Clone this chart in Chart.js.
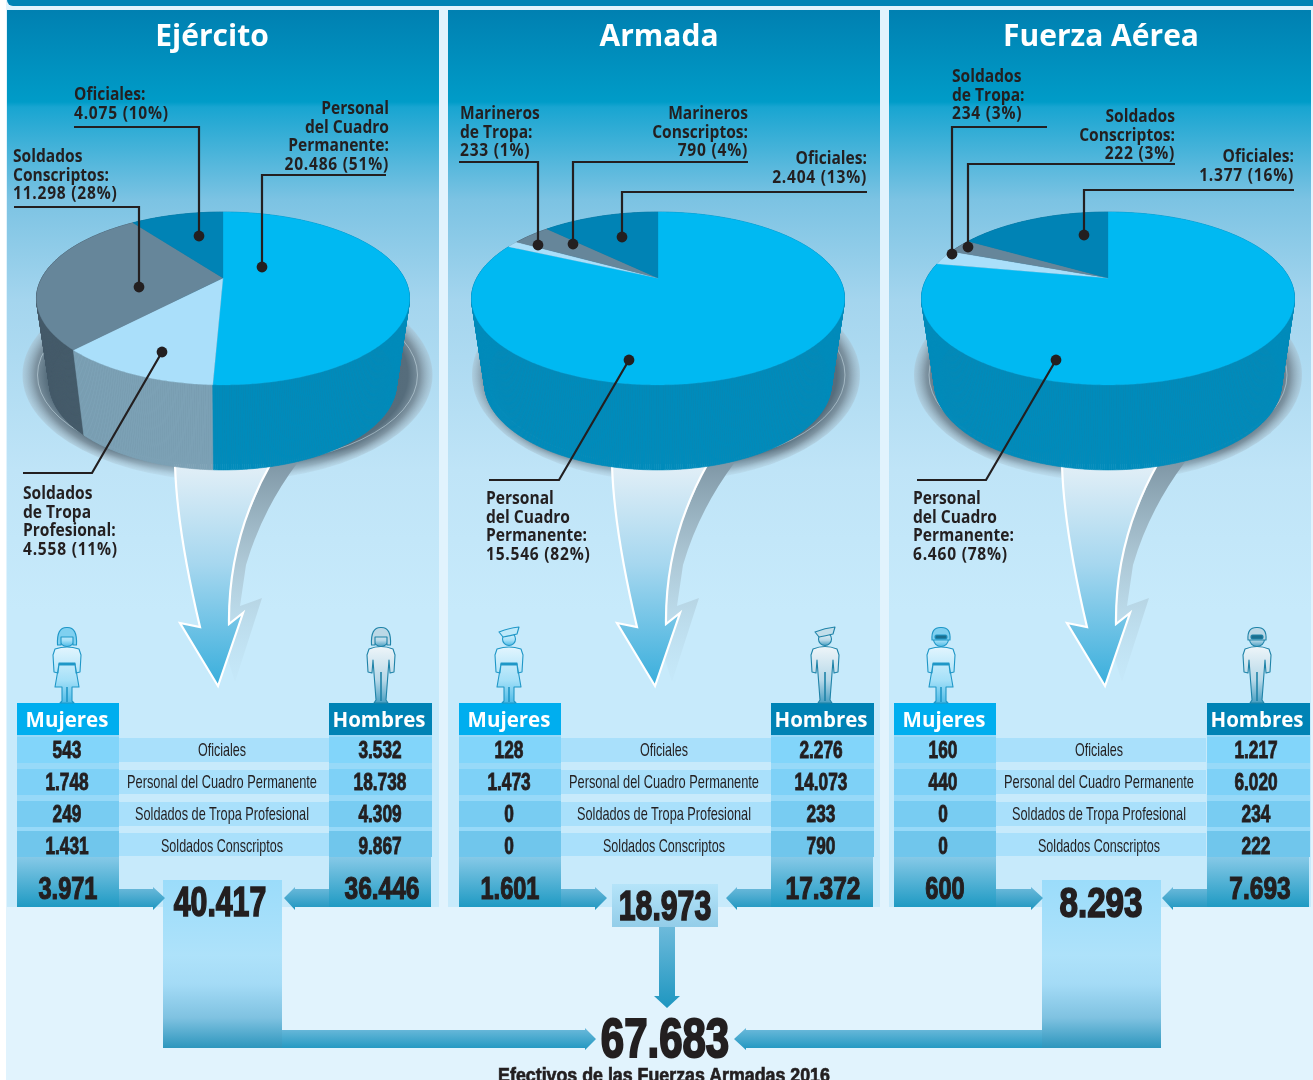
<!DOCTYPE html>
<html lang="es"><head><meta charset="utf-8"><title>Efectivos de las Fuerzas Armadas 2016</title>
<script src="https://cdn.jsdelivr.net/npm/chart.js@4"></script>
<style>
html,body{margin:0;padding:0;background:#fff;}
#page{position:relative;width:1313px;height:1080px;overflow:hidden;background:#fff;}
#bg{position:absolute;left:6px;top:0;width:1307px;height:1080px;background:#E1F3FD;}
#bar{position:absolute;left:7px;top:0;width:1306px;height:6px;background:#0083B5;border-bottom-left-radius:6px;}
.panel{position:absolute;top:9.5px;height:897.5px;background:linear-gradient(180deg,#0080B1 0,#009CC8 92px,#18A5D1 97px,#7CC3E3 190px,#A4D5EE 290px,#BFE4F7 460px,#C7EAFB 600px,#C7EAFB 100%);}
svg.layer{position:absolute;left:0;top:0;width:1313px;height:1080px;}
canvas{position:absolute;}
.t{position:absolute;white-space:nowrap;color:#231f20;line-height:1;}
.title{font:700 30px "Open Sans",sans-serif;color:#fff;}
.lab{font:700 17.5px/18.6px "Open Sans",sans-serif;}
.lab span{display:block;}
.lab span.v{letter-spacing:.85px;}
.lab.l{transform:scaleX(.89);transform-origin:left top;text-align:left;}
.lab.r{transform:translateX(-100%) scaleX(.89);transform-origin:right top;text-align:right;}
.hd{font:700 20.5px "Open Sans",sans-serif;color:#fff;}
.cat{font:400 18.5px "Liberation Sans",sans-serif;}
.num{font:700 24px "Liberation Sans",sans-serif;-webkit-text-stroke:.9px #231f20;}
.tot{font:700 31px "Liberation Sans",sans-serif;-webkit-text-stroke:1.2px #231f20;}
.big{font:700 42px "Liberation Sans",sans-serif;-webkit-text-stroke:1.7px #231f20;}
.grand{font:700 56px "Liberation Sans",sans-serif;-webkit-text-stroke:2.2px #231f20;}
.foot{font:700 20px "Liberation Sans",sans-serif;-webkit-text-stroke:.7px #231f20;}
.blk{position:absolute;}
</style></head>
<body><div id="page"><div id="bg"></div><div id="bar"></div>
<div id="under"></div>
<svg class="layer" id="svgBack" xmlns="http://www.w3.org/2000/svg"></svg>
<div id="charts"></div>
<svg class="layer" id="svgFront" xmlns="http://www.w3.org/2000/svg"></svg>
<div id="texts"></div>
</div>
<script>
// ---------- data ----------
const forces = ["Ejército", "Armada", "Fuerza Aérea"];
const rowCategories = ["Oficiales", "Personal del Cuadro Permanente", "Soldados de Tropa Profesional", "Soldados Conscriptos"];
const pieEjercito = [20486, 4558, 11298, 4075];
const pieArmada = [15546, 233, 790, 2404];
const pieAerea = [6460, 234, 222, 1377];
const mujeresEjercito = ["543", "1.748", "249", "1.431"];
const hombresEjercito = ["3.532", "18.738", "4.309", "9.867"];
const mujeresArmada = ["128", "1.473", "0", "0"];
const hombresArmada = ["2.276", "14.073", "233", "790"];
const mujeresAerea = ["160", "440", "0", "0"];
const hombresAerea = ["1.217", "6.020", "234", "222"];
const totalMujeres = ["3.971", "1.601", "600"];
const totalHombres = ["36.446", "17.372", "7.693"];
const totalFuerza = ["40.417", "18.973", "8.293"];
const totalGeneral = "67.683";
const caption = "Efectivos de las Fuerzas Armadas 2016";
const labelsEjercito = ["Personal\ndel Cuadro\nPermanente:\n20.486 (51%)", "Soldados\nde Tropa\nProfesional:\n4.558 (11%)", "Soldados\nConscriptos:\n11.298 (28%)", "Oficiales:\n4.075 (10%)"];
const labelsArmada = ["Personal\ndel Cuadro\nPermanente:\n15.546 (82%)", "Marineros\nde Tropa:\n233 (1%)", "Marineros\nConscriptos:\n790 (4%)", "Oficiales:\n2.404 (13%)"];
const labelsAerea = ["Personal\ndel Cuadro\nPermanente:\n6.460 (78%)", "Soldados\nde Tropa:\n234 (3%)", "Soldados\nConscriptos:\n222 (3%)", "Oficiales:\n1.377 (16%)"];

// ---------- layout / styling ----------
const topColors = ["#00B9F2", "#AADFFA", "#66869A", "#0083B5"];
const sideColors = ["#008BBB", "#7CA1B5", "#455B69", "#006E98"];
const layout = [
  {panel:[7,432], apex:223, titleX:212, pie:pieEjercito, labels:labelsEjercito, muj:mujeresEjercito, hom:hombresEjercito,
   colL:17, colR:329, midX:222, numL:67, numR:380, totL:68, totR:382, shadow:[227.5,205], funnel:0, manX:381, womanX:67, hat:"helmet",
   boxText:[220,902,.72],
   labelPos:[[389,98,"r"],[23,483,"l"],[13,146,"l"],[74,84,"l"]],
   leaders:[[[386,175],[262,175],[262,267]],[[23,473],[92,473],[162,352]],[[14,207],[139,207],[139,287]],[[74,127],[199,127],[199,236]]]},
  {panel:[448,432], apex:658, titleX:659, pie:pieArmada, labels:labelsArmada, muj:mujeresArmada, hom:hombresArmada,
   colL:459, colR:771, midX:664, numL:509, numR:821, totL:510, totR:823, shadow:[666,194], funnel:437, manX:825, womanX:509, hat:"sailor",
   boxText:[665,906,.72],
   labelPos:[[486,488,"l"],[460,103,"l"],[748,103,"r"],[867,148,"r"]],
   leaders:[[[489,480],[559,480],[629,360]],[[459,162],[538,162],[538,245]],[[748,162],[573,162],[573,244]],[[867,192],[622,192],[622,237]]]},
  {panel:[889,422], apex:1108, titleX:1101, pie:pieAerea, labels:labelsAerea, muj:mujeresAerea, hom:hombresAerea,
   colL:894, colR:1207, midX:1099, numL:943, numR:1256, totL:945, totR:1260, shadow:[1108,194], funnel:887, manX:1257, womanX:941, hat:"goggles",
   boxText:[1101,903,.79],
   labelPos:[[913,488,"l"],[952,66,"l"],[1175,106,"r"],[1294,146,"r"]],
   leaders:[[[917,480],[986,480],[1056,360]],[[1047,127],[952,127],[952,254]],[[1175,164],[968,164],[968,247]],[[1294,190],[1084,190],[1084,235]]]}
];
const APEX_Y=278, A_TOP=181.2, B_TOP=81.6, PERSP=-0.237, A_BOT=168.5, B_BOT=81.6, APEX_Y_BOT=363;

// ---------- helpers ----------
const NS="http://www.w3.org/2000/svg";
const under=document.getElementById('under'), texts=document.getElementById('texts');
const back=document.getElementById('svgBack'), front=document.getElementById('svgFront');
function s(parent,tag,attrs){const e=document.createElementNS(NS,tag);for(const k in attrs)e.setAttribute(k,attrs[k]);parent.appendChild(e);return e;}
function box(x,y,w,h,bg,parent){const d=document.createElement('div');d.className='blk';d.style.cssText=`left:${x}px;top:${y}px;width:${w}px;height:${h}px;background:${bg}`;(parent||under).appendChild(d);return d;}
function txt(str,x,y,cls,sx=1){const d=document.createElement('div');d.className='t '+cls;d.textContent=str;d.style.left=x+'px';d.style.top=y+'px';
  d.style.transform=`translate(-50%,-50%) scaleX(${sx})`;texts.appendChild(d);return d;}
function fit(d,w){const r=d.getBoundingClientRect().width;d.style.transform=`translate(-50%,-50%) scaleX(${w/r})`;}

// gradients
const defs=s(back,'defs',{});
function lg(id,stops,vertical=true,parent=defs){const g=s(parent,'linearGradient',{id,x1:0,y1:0,x2:vertical?0:1,y2:vertical?1:0});stops.forEach(([o,c,a])=>s(g,'stop',{offset:o,'stop-color':c,'stop-opacity':a==null?1:a}));return g;}
lg('arrow',[[0,'#6DBADB'],[1,'#1E96C0']]);
lg('funnel',[[0,'#E2EFF7'],[.45,'#A6D7EF'],[1,'#38AEDC']]);
lg('fshadow',[[0,'#7F97A6'],[.45,'#A9C2CF',.85],[1,'#B8D8E8',.1]]);
lg('woman',[[0,'#E2F5FE'],[.6,'#A4E0F8'],[1,'#4FBBE6']]);
lg('man',[[0,'#EEF5F9'],[.6,'#B6D8E8'],[1,'#4A9FC2']]);
const rg=s(defs,'radialGradient',{id:'shadow',cx:.5,cy:.5,r:.5});
[[0,'#4C6372',1],[.88,'#566D7C',1],[.94,'#7F95A3',1],[1,'#A8C0CE',.5]].forEach(([o,c,a])=>s(rg,'stop',{offset:o,'stop-color':c,'stop-opacity':a}));
const fade=s(defs,'linearGradient',{id:'fadeG',gradientUnits:'userSpaceOnUse',x1:0,y1:400,x2:0,y2:481});
[[0,'#fff'],[.6,'#fff'],[1,'#555']].forEach(([o,c])=>s(fade,'stop',{offset:o,'stop-color':c}));
const mask=s(defs,'mask',{id:'fadeM',maskUnits:'userSpaceOnUse',x:0,y:0,width:1313,height:1080});
s(mask,'rect',{x:0,y:0,width:1313,height:1080,fill:'url(#fadeG)'});

// ---------- backgrounds, tables, arrows ----------
layout.forEach((L,i)=>{
  const p=document.createElement('div');p.className='panel';p.style.left=L.panel[0]+'px';p.style.width=L.panel[1]+'px';under.appendChild(p);
  txt(forces[i],L.titleX,34,'title');

  // shadow ellipse under pie
  s(back,'ellipse',{cx:L.shadow[0],cy:375,rx:L.shadow[1],ry:106,fill:'url(#shadow)',mask:'url(#fadeM)'});
  s(back,'ellipse',{cx:L.shadow[0],cy:375,rx:L.shadow[1]-15,ry:91,fill:'none',stroke:'#C9DCE6','stroke-width':.7,opacity:.8});

  // funnel arrow
  const f=L.funnel;
  s(back,'path',{d:`M${270+f},462 L${298+f},462 Q${262+f},510 ${246+f},565 L${240+f},606 L${262+f},598 L${235+f},682 L${222+f},640 L${229+f},560 Z`,fill:'url(#fshadow)'});
  s(back,'path',{d:`M${175+f},465 Q${177+f},530 ${200+f},627 L${180+f},623 L${218+f},686 L${243+f},613 L${229+f},624 Q${228+f},540 ${270+f},465 Z`,fill:'url(#funnel)',stroke:'#fff','stroke-width':2.2,'stroke-linejoin':'miter'});

  // people
  drawPerson(L.womanX,true,L.hat);
  drawPerson(L.manX,false,L.hat);

  // headers
  box(L.colL,703,102,32,'#00AEEF');
  box(L.colR,703,103,32,'#0083B5');
  txt('Mujeres',L.colL+50,718.5,'hd');
  txt('Hombres',L.colR+50,718.5,'hd');

  // columns + rows
  const sideRows=[[737,26],[769,26],[801,26],[831,26]], sideCols=['#82D5FA','#7ED1F7','#78CCF2','#70C6EC'];
  const midRows=[[738,24],[770,24],[802,24],[833,23]];
  box(L.colL,735,102,122,'#97D9F8');box(L.colR,735,103,122,'#97D9F8');
  rowCategories.forEach((c,r)=>{
    box(L.colL,sideRows[r][0],102,sideRows[r][1],sideCols[r]);
    box(L.colR,sideRows[r][0],103,sideRows[r][1],sideCols[r]);
    box(L.colL+102,midRows[r][0],210,midRows[r][1],'#A9E0FB');
    const y=[750,782,814,846][r];
    txt(L.muj[r],L.numL,y,'num',.72);
    txt(L.hom[r],L.numR,y,'num',.72);
    const w=[48,190,174,122][r];
    fit(txt(c,L.midX,y,'cat'),w);
  });
  // totals
  box(L.colL,857,102,50,'linear-gradient(180deg,#86C9E7,#1F9AC3)');
  box(L.colR,857,102,50,'linear-gradient(180deg,#86C9E7,#1F9AC3)');
  txt(totalMujeres[i],L.totL,889,'tot',.76);
  txt(totalHombres[i],L.totR,889,'tot',.79);
});

// total boxes and arrows (these sit above the panels)
const arrowPolys=[
 [[119,889],[153,889],[153,887],[165,898],[153,910],[153,907],[119,907]],
 [[329,889],[295,889],[295,887],[284,898],[295,910],[295,907],[329,907]],
 [[561,889],[595,889],[595,887],[607,898],[595,910],[595,907],[561,907]],
 [[771,889],[737,889],[737,887],[726,898],[737,910],[737,907],[771,907]],
 [[996,889],[1031,889],[1031,887],[1043,898],[1031,910],[1031,907],[996,907]],
 [[1207,889],[1173,889],[1173,887],[1162,898],[1173,910],[1173,907],[1207,907]],
 [[282,1030],[585,1030],[585,1028],[596,1039],[585,1050],[585,1048],[282,1048]],
 [[1042,1030],[746,1030],[746,1028],[734,1039],[746,1050],[746,1048],[1042,1048]],
 [[659,927],[675,927],[675,996],[680,996],[667,1008],[654,996],[659,996]]
];
const boxes=document.createElement('div');under.appendChild(boxes);
box(163,880,119,168,'linear-gradient(180deg,#9BDCFA 0,#AEE2FA 45%,#A4DBF6 62%,#7FC2E1 82%,#2D96BD 100%)',boxes);
box(1042,880,119,168,'linear-gradient(180deg,#9BDCFA 0,#AEE2FA 45%,#A4DBF6 62%,#7FC2E1 82%,#2D96BD 100%)',boxes);
box(612,884,106,43,'linear-gradient(180deg,#B5E4F9,#93CDE9)',boxes);
arrowPolys.forEach(a=>s(back,'polygon',{points:a.map(p=>p.join(',')).join(' '),fill:'url(#arrow)'}));
layout.forEach((L,i)=>txt(totalFuerza[i],L.boxText[0],L.boxText[1],'big',L.boxText[2]));
txt(totalGeneral,665,1037,'grand',.75);
txt(caption,664,1075,'foot',.89);

function drawPerson(cx,woman,hat){
  const g=s(back,'g',{transform:`translate(${cx},0)`,stroke:woman?'#1F97C7':'#1F83A8','stroke-width':1.1,'stroke-linejoin':'round'});
  const fill=woman?'url(#woman)':'url(#man)';
  const d=woman
   ?'M-12,649 Q0,645 12,649 L14,655 L13,672 L9,673 L8,664 L12,687 L5,687 L5,701 L7,703 L-7,703 L-5,701 L-5,687 L-12,687 L-8,664 L-9,673 L-13,672 L-14,655 Z'
   :'M-12,649 Q0,644 12,649 L14,655 L13,672 L9,673 L8,660 L5,700 L7,703 L-7,703 L-5,700 L-8,660 L-9,673 L-13,672 L-14,655 Z';
  s(g,'path',{d,fill});
  if(woman){s(g,'rect',{x:-8,y:663,width:16,height:2,fill:'#1F97C7'});s(g,'line',{x1:0,y1:687,x2:0,y2:702,'stroke-width':1.6});}
  else s(g,'line',{x1:0,y1:672,x2:0,y2:701,'stroke-width':1.6});
  s(g,'circle',{cx:0,cy:639,r:hat==='sailor'?6.5:7.5,fill});
  if(hat==='helmet'){
    s(g,'path',{d:'M-9.5,645 Q-10.5,627 0,627.5 Q10.5,627 9.5,645 L6,645 L6,637 L-6,637 L-6,645 Z',fill:woman?'#7FD0F0':'#BBD8E6'});
  } else if(hat==='sailor'){
    s(g,'path',{d:'M-10,632 Q0,628 10,627 L8,634 Q0,636 -6,637 Z',fill:woman?'#BDE9FA':'#C3DEEA'});
  } else {
    s(g,'path',{d:'M-9,640 Q-10,627 0,627.5 Q10,627 9,640 Z',fill:woman?'#7FD0F0':'#BBD8E6'});
    s(g,'rect',{x:-6,y:635,width:12,height:4,rx:1.5,fill:'#1B6F8F'});
  }
}

// ---------- pies, drawn by Chart.js from the data arrays ----------
const perspectivePlugin={
  id:'perspective',
  beforeDatasetsDraw(chart){
    const ctx=chart.ctx, arcs=chart.getDatasetMeta(0).data;
    const cols=chart.data.datasets[0].backgroundColor, sides=chart.data.datasets[0].sideColor;
    const toScreen=(arc,a,A,B,dy)=>{const d=1+PERSP*Math.sin(a);return [arc.x+A*Math.cos(a)/d, arc.y+dy+B*Math.sin(a)/d];};
    const DY=APEX_Y_BOT-APEX_Y;
    for(let i=arcs.length-1;i>=0;i--){
      const arc=arcs[i], n=Math.max(2,Math.ceil((arc.endAngle-arc.startAngle)/0.01));
      ctx.fillStyle=sides[i];ctx.strokeStyle=sides[i];ctx.lineWidth=.6;
      for(let k=0;k<n;k++){
        const a=arc.startAngle+(arc.endAngle-arc.startAngle)*k/n, b=arc.startAngle+(arc.endAngle-arc.startAngle)*(k+1)/n;
        const p=[toScreen(arc,a,A_TOP,B_TOP,0),toScreen(arc,b,A_TOP,B_TOP,0),toScreen(arc,b,A_BOT,B_BOT,DY),toScreen(arc,a,A_BOT,B_BOT,DY)];
        ctx.beginPath();ctx.moveTo(p[0][0],p[0][1]);p.slice(1).forEach(q=>ctx.lineTo(q[0],q[1]));ctx.closePath();ctx.fill();ctx.stroke();
      }
    }
    arcs.forEach((arc,i)=>{
      ctx.beginPath();ctx.moveTo(arc.x,arc.y);
      const n=Math.max(2,Math.ceil((arc.endAngle-arc.startAngle)/0.01));
      for(let k=0;k<=n;k++){const a=arc.startAngle+(arc.endAngle-arc.startAngle)*k/n,q=toScreen(arc,a,A_TOP,B_TOP,0);ctx.lineTo(q[0],q[1]);}
      ctx.closePath();ctx.fillStyle=cols[i];ctx.strokeStyle=cols[i];ctx.lineWidth=.3;ctx.fill();ctx.stroke();
    });
    return false;
  }
};
const CANVAS_TOP=190, CANVAS_H=290;
layout.forEach((L,i)=>{
  const c=document.createElement('canvas');c.width=432;c.height=CANVAS_H;
  c.style.cssText=`left:${L.apex-216}px;top:${CANVAS_TOP}px;width:432px;height:${CANVAS_H}px`;
  document.getElementById('charts').appendChild(c);
  new Chart(c,{type:'pie',
    data:{labels:L.labels.map(t=>t.replace(/\n/g,' ')),datasets:[{data:L.pie,backgroundColor:topColors,sideColor:sideColors,borderWidth:0}]},
    options:{responsive:false,animation:false,events:[],
      layout:{padding:{top:0,bottom:CANVAS_H-2*(APEX_Y-CANVAS_TOP)}},
      plugins:{legend:{display:false},tooltip:{enabled:false}}},
    plugins:[perspectivePlugin]});
  L.labels.forEach((t,k)=>{
    const [x,y,al]=L.labelPos[k];
    const d=document.createElement('div');d.className='t lab '+al;d.style.left=x+'px';d.style.top=y+'px';
    const lines=t.split('\n');
    lines.forEach((ln,j)=>{const sp=document.createElement('span');sp.textContent=ln;if(j===lines.length-1)sp.className='v';d.appendChild(sp);});
    texts.appendChild(d);
    const pl=L.leaders[k];
    s(front,'polyline',{points:pl.map(p=>p.join(',')).join(' '),fill:'none',stroke:'#231F20','stroke-width':2.2});
    const e=pl[pl.length-1];
    s(front,'circle',{cx:e[0],cy:e[1],r:5.4,fill:'#231F20'});
  });
});
</script></body></html>
